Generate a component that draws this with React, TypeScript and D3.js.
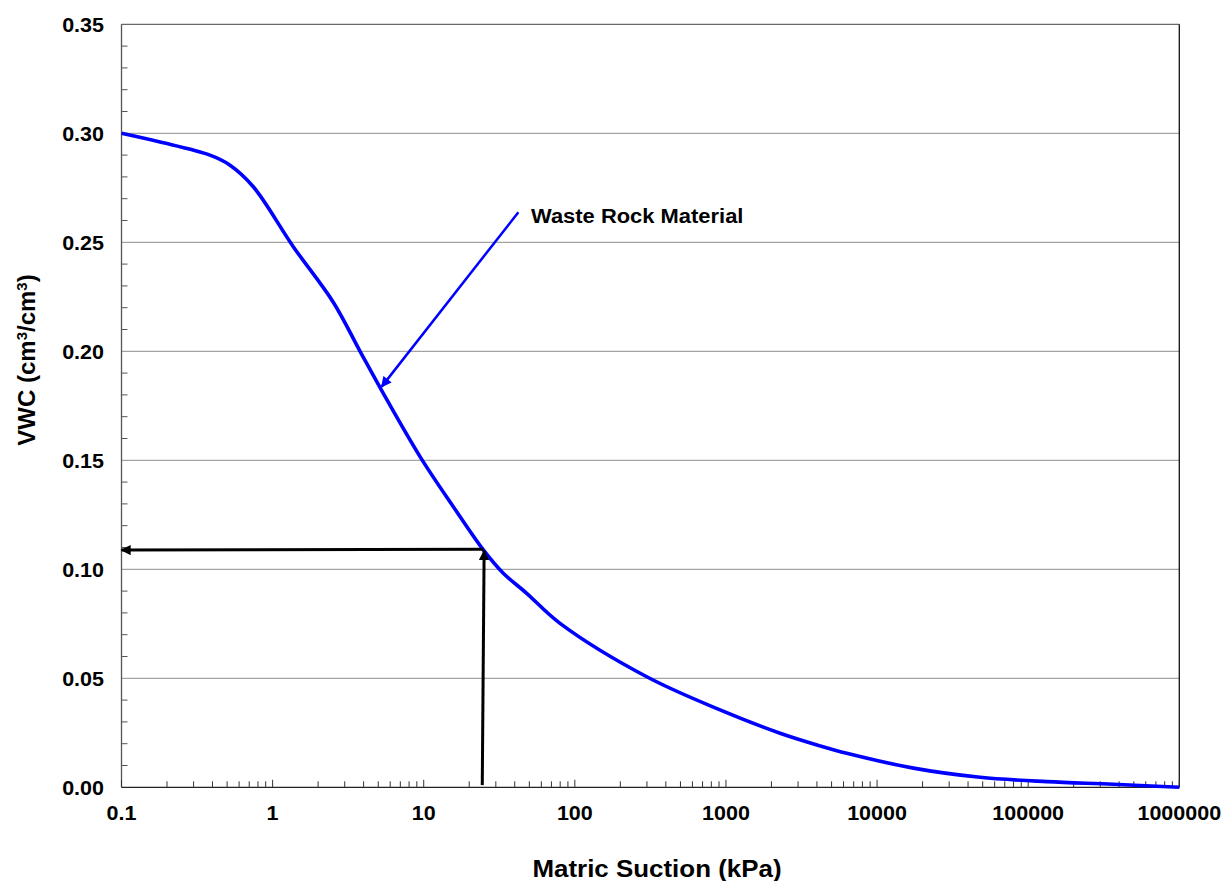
import React from "react";
import * as d3 from "d3";

// ---- data ----
const suction = [0.1, 0.18, 0.385, 0.52, 0.745, 1.37, 2.52, 3.79, 5.4, 9.45, 15.7, 24.8, 33.6, 48, 79.8, 299, 914, 2280, 4200, 6300, 17400, 48000, 133000, 366000, 1000000];
const vwc = [0.300, 0.296, 0.290, 0.2855, 0.2755, 0.248, 0.2225, 0.200, 0.1807, 0.1517, 0.1287, 0.1089, 0.0982, 0.089, 0.0752, 0.0507, 0.0355, 0.0248, 0.0190, 0.0156, 0.0088, 0.0046, 0.0026, 0.0014, 0.0];

const xTickValues = [0.1, 1, 10, 100, 1000, 10000, 100000, 1000000];
const xTickLabels = ["0.1", "1", "10", "100", "1000", "10000", "100000", "1000000"];
const yTickValues = [0, 0.05, 0.1, 0.15, 0.2, 0.25, 0.3, 0.35];
const yTickLabels = ["0.00", "0.05", "0.10", "0.15", "0.20", "0.25", "0.30", "0.35"];

// annotation arrows (data coords)
const hArrow = { from: [24.8, 0.1092], to: [0.1, 0.1088] };
const vArrow = { from: [24.4, 0.001], to: [25.1, 0.1085] };
const labelArrow = { from: [42.3, 0.2638], to: [5.27, 0.1838] };
const labelText = "Waste Rock Material";
const labelPos = [51.3, 0.259];

const W = 1231, H = 881;
const M = { left: 121.5, right: 1179.3, top: 24.3, bottom: 787.3 };
const FONT = "'Liberation Sans', Arial, Helvetica, sans-serif";

export default function App() {
  const x = d3.scaleLog().domain([0.1, 1000000]).range([M.left, M.right]);
  const y = d3.scaleLinear().domain([0, 0.35]).range([M.bottom, M.top]);

  const pts = suction.map((s, i) => [s, vwc[i]] as [number, number]);
  const line = d3.line<[number, number]>()
    .x(d => x(d[0]))
    .y(d => y(d[1]))
    .curve(d3.curveCatmullRom.alpha(0.5));

  // minor ticks
  const xMinor: number[] = [];
  for (let e = -1; e < 6; e++) {
    for (let k = 2; k <= 9; k++) xMinor.push(k * Math.pow(10, e));
  }
  const yMinor = d3.range(1, 35).map(i => i / 100).filter(v => Math.round(v * 100) % 5 !== 0);

  const arrowLine = (a: { from: number[]; to: number[] }) => ({
    x1: x(a.from[0]), y1: y(a.from[1]), x2: x(a.to[0]), y2: y(a.to[1]),
  });
  const h = arrowLine(hArrow);
  const v = arrowLine(vArrow);
  const l = arrowLine(labelArrow);

  const sx = (cx: number, k: number) => `translate(${cx},0) scale(${k},1) translate(${-cx},0)`;

  return (
    <svg width={W} height={H} style={{ position: "absolute", left: 0, top: 0, display: "block", background: "#fff" }}
      fontFamily={FONT}>
      <defs>
        <marker id="blackHead" viewBox="0 0 10 10" refX="9" refY="5" markerWidth="4" markerHeight="3.4" orient="auto" markerUnits="strokeWidth">
          <path d="M0,0 L10,5 L0,10 z" fill="#000" />
        </marker>
        <marker id="blueHead" viewBox="0 0 10 10" refX="9" refY="5" markerWidth="5" markerHeight="4.2" orient="auto" markerUnits="strokeWidth">
          <path d="M0,0 L10,5 L0,10 z" fill="#0000ff" />
        </marker>
      </defs>

      {/* gridlines */}
      {yTickValues.filter(t => t > 0 && t < 0.35).map(t => (
        <line key={"g" + t} x1={M.left} x2={M.right} y1={y(t)} y2={y(t)} stroke="#8c8c8c" strokeWidth={1} />
      ))}

      {/* frame */}
      <line x1={M.left} x2={M.right} y1={M.top} y2={M.top} stroke="#444" strokeWidth={1} />
      <line x1={M.right} x2={M.right} y1={M.top} y2={M.bottom} stroke="#111" strokeWidth={1.3} />
      <line x1={M.left} x2={M.left} y1={M.top} y2={M.bottom} stroke="#555" strokeWidth={1.3} />
      <line x1={M.left} x2={M.right} y1={M.bottom} y2={M.bottom} stroke="#222" strokeWidth={1.3} />

      {/* y minor ticks */}
      {yMinor.map(t => (
        <line key={"ym" + t} x1={M.left} x2={M.left + 6} y1={y(t)} y2={y(t)} stroke="#555" strokeWidth={1} />
      ))}
      {/* x ticks */}
      {xMinor.map(t => (
        <line key={"xm" + t} x1={x(t)} x2={x(t)} y1={M.bottom} y2={M.bottom - 6} stroke="#333" strokeWidth={1} />
      ))}
      {xTickValues.map(t => (
        <line key={"xM" + t} x1={x(t)} x2={x(t)} y1={M.bottom} y2={M.bottom - 7.5} stroke="#333" strokeWidth={1} />
      ))}

      {/* tick labels */}
      {yTickValues.map((t, i) => (
        <text key={"yl" + t} x={104} y={y(t)} dy="0.36em" textAnchor="end" fontSize={20.5} fontWeight="bold" fill="#000"
          transform={sx(104, 1.05)}>{yTickLabels[i]}</text>
      ))}
      {xTickValues.map((t, i) => (
        <text key={"xl" + t} x={x(t)} y={820} textAnchor="middle" fontSize={20.5} fontWeight="bold" fill="#000"
          transform={sx(x(t), 1.05)}>{xTickLabels[i]}</text>
      ))}

      {/* curve */}
      <path d={line(pts) || ""} fill="none" stroke="#0000ff" strokeWidth={3.6} strokeLinejoin="round" />

      {/* black arrows */}
      <line {...h} stroke="#000" strokeWidth={3} markerEnd="url(#blackHead)" />
      <line {...v} stroke="#000" strokeWidth={3} markerEnd="url(#blackHead)" />

      {/* label arrow */}
      <line {...l} stroke="#0000ff" strokeWidth={2.5} markerEnd="url(#blueHead)" />
      <text x={x(labelPos[0])} y={y(labelPos[1])} fontSize={20.5} fontWeight="bold" fill="#000"
        transform={sx(x(labelPos[0]), 1.07)}>{labelText}</text>

      {/* axis titles */}
      <text x={657} y={877} textAnchor="middle" fontSize={24} fontWeight="bold" fill="#000"
        transform={sx(657, 1.08)}>Matric Suction (kPa)</text>
      <text transform="translate(35,360) rotate(-90)" textAnchor="middle" fontSize={24} fontWeight="bold" fill="#000">
        VWC (cm<tspan baselineShift="super" fontSize={15}>3</tspan>/cm<tspan baselineShift="super" fontSize={15}>3</tspan>)
      </text>
    </svg>
  );
}
